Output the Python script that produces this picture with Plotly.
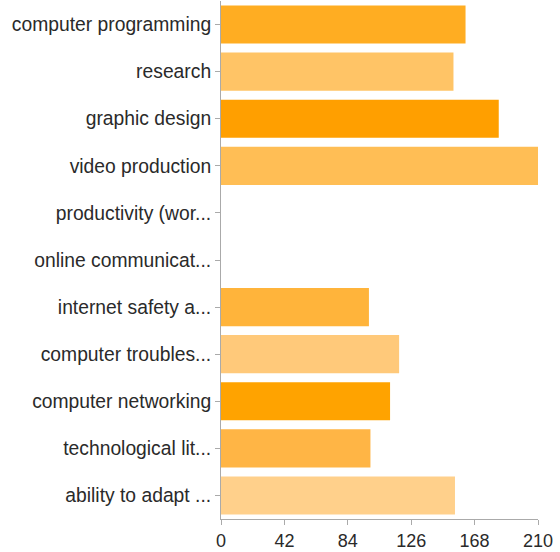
import plotly.graph_objects as go

categories = [
    "computer programming", "research", "graphic design", "video production",
    "productivity (wor...", "online communicat...", "internet safety a...",
    "computer troubles...", "computer networking", "technological lit...",
    "ability to adapt ...",
]
values = [162, 154, 184, 210, 0, 0, 98, 118, 112, 99, 155]
colors = ["#FFAD22", "#FFC466", "#FF9F00", "#FFBE55", "#FFB43B", "#FFB43B",
          "#FFB43B", "#FFC97A", "#FFA300", "#FFB545", "#FFD08B"]
x_ticks = [0, 42, 84, 126, 168, 210]

fig = go.Figure(go.Bar(
    y=categories, x=values, orientation="h",
    marker=dict(color=colors, line=dict(width=0)),
))

fig.update_layout(
    width=560, height=552,
    margin=dict(l=221, r=22, t=1, b=28),
    paper_bgcolor="white", plot_bgcolor="white",
    bargap=0.19,
    showlegend=False,
    font=dict(family="Liberation Sans, Arial, sans-serif", size=18, color="#2a2a2a"),
)
fig.update_xaxes(
    range=[0, 210], tickvals=x_ticks, showgrid=False, zeroline=False,
    showline=True, linecolor="#aaaaaa", linewidth=1,
    ticks="outside", ticklen=5, tickcolor="#aaaaaa",
    tickfont=dict(size=18, color="#2a2a2a"),
)
fig.update_yaxes(
    categoryorder="array", categoryarray=categories, autorange="reversed",
    showgrid=False, zeroline=False,
    showline=True, linecolor="#aaaaaa", linewidth=1,
    ticks="outside", ticklen=5, tickcolor="#aaaaaa",
    tickfont=dict(size=19.3, color="#2a2a2a"),
)

fig.write_html(
    "out.html",
    config={"displayModeBar": False},
    post_script="document.body.style.margin='0';document.body.style.padding='0';",
)
